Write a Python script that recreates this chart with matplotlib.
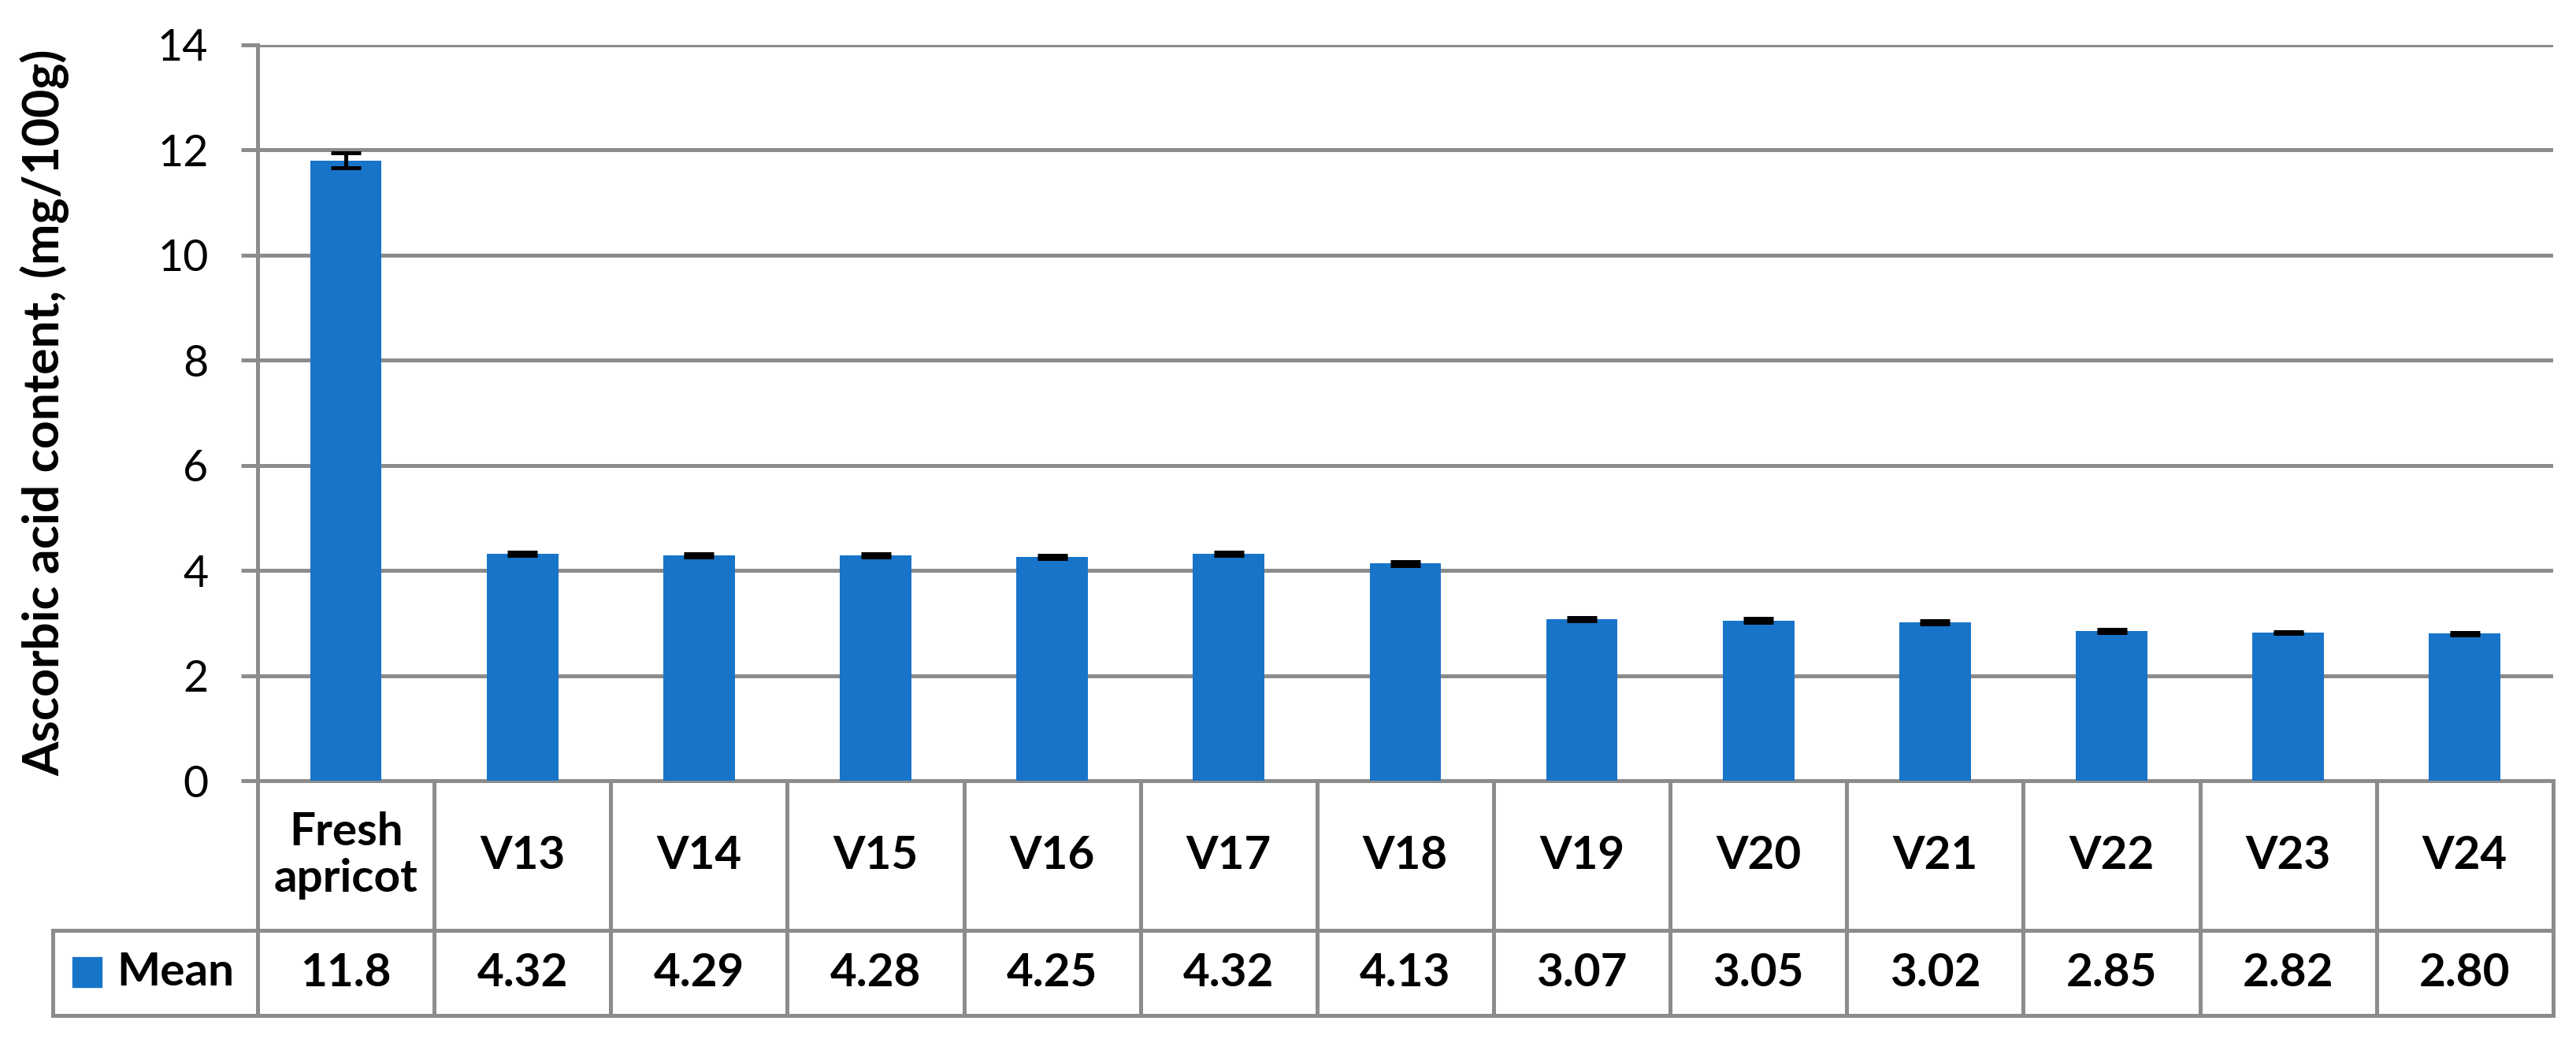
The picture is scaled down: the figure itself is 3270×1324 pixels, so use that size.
import matplotlib.pyplot as plt
from matplotlib.patches import Rectangle
import numpy as np

categories = ["Fresh\napricot", "V13", "V14", "V15", "V16", "V17", "V18",
              "V19", "V20", "V21", "V22", "V23", "V24"]
means = [11.8, 4.32, 4.29, 4.28, 4.25, 4.32, 4.13, 3.07, 3.05, 3.02, 2.85, 2.82, 2.80]
errors = [0.14, 0.03, 0.03, 0.03, 0.03, 0.03, 0.04, 0.03, 0.04, 0.03, 0.03, 0.02, 0.02]
mean_labels = ["11.8", "4.32", "4.29", "4.28", "4.25", "4.32", "4.13",
               "3.07", "3.05", "3.02", "2.85", "2.82", "2.80"]

bar_color = "#1874C9"
grid_color = "#8C8C8C"
lw = 3.6

plt.rcParams['font.family'] = ['Lato', 'DejaVu Sans']

fig = plt.figure(figsize=(32.7, 13.24), dpi=100)
ax = fig.add_axes([0.1, 0.2515, 0.8911, 0.7055])

x = np.arange(len(categories))
ax.bar(x, means, width=0.405, color=bar_color, zorder=3)
ax.errorbar(x, means, yerr=errors, fmt='none', ecolor='black',
            elinewidth=lw, capsize=13.5, capthick=lw, zorder=4)

ax.set_xlim(-0.5, len(categories) - 0.5)
ax.set_ylim(0, 14)
ax.set_yticks(np.arange(0, 15, 2))
ax.tick_params(axis='y', labelsize=40, length=15, width=lw, color=grid_color, pad=30)
ax.tick_params(axis='x', bottom=False, labelbottom=False)
ax.yaxis.grid(True, color=grid_color, linewidth=lw, zorder=0)
ax.set_axisbelow(True)
for s in ['top', 'right']:
    ax.spines[s].set_visible(False)
for s in ['left', 'bottom']:
    ax.spines[s].set_color(grid_color)
    ax.spines[s].set_linewidth(lw)

ax.set_ylabel("Ascorbic acid content, (mg/100g)", fontsize=45, fontweight='bold')
ax.yaxis.set_label_coords(-0.082, 0.5)

# data table under the bars (row label column hangs to the left of the axes)
row_label_w = 260 / 2914
tbl = ax.table(cellText=[mean_labels], colLabels=categories,
               colWidths=[1 / 13] * 13, cellLoc='center',
               bbox=[0, -0.3191, 1, 0.3191])
tbl.add_cell(1, -1, width=row_label_w, height=108, text="")
tbl.auto_set_font_size(False)
for (r, c), cell in tbl.get_celld().items():
    cell.set_edgecolor(grid_color)
    cell.set_linewidth(lw)
    cell.set_height(190 if r == 0 else 108)
    txt = cell.get_text()
    txt.set_fontsize(42)
    txt.set_fontweight('bold')
    txt.set_linespacing(1.15)

# legend key inside the row-label cell
ax.add_patch(Rectangle((-0.0806, -0.281), 0.0127, 0.0407, transform=ax.transAxes,
                       color=bar_color, clip_on=False))
ax.text(-0.0614, -0.2612, "Mean", transform=ax.transAxes, fontsize=42,
        fontweight='bold', ha='left', va='center')

plt.savefig("out.png", dpi=100)
plt.close()
